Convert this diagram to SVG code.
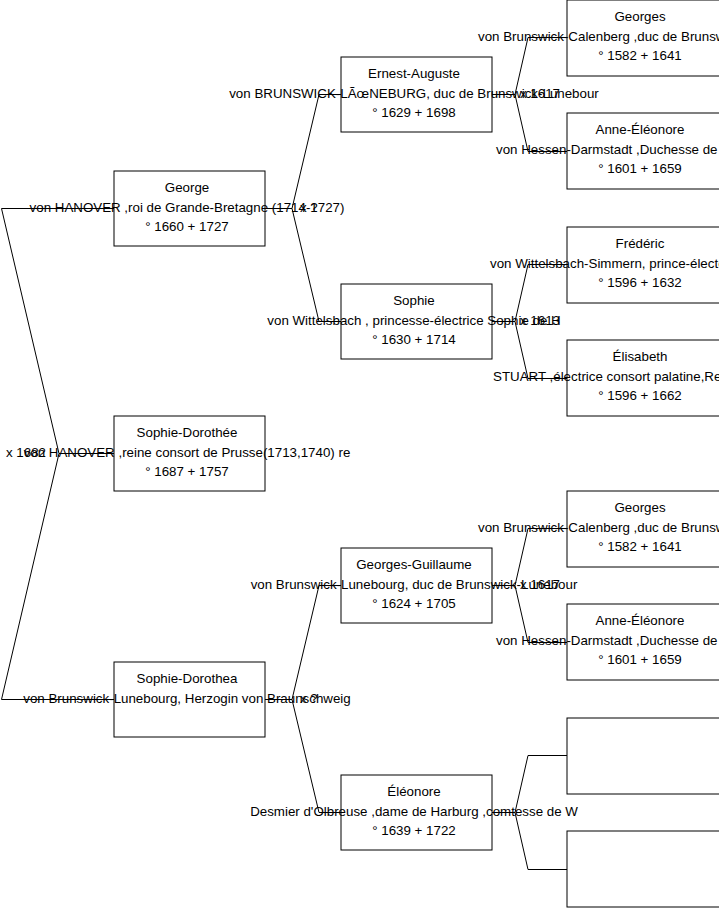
<svg xmlns="http://www.w3.org/2000/svg" width="719" height="908" viewBox="0 0 719 908">
<style>
.bg{fill:#fff}
.box{fill:#fff;stroke:#000;stroke-width:1}
.t{font-family:"Liberation Sans",Arial,sans-serif;font-size:13.33px;fill:#000;text-anchor:middle}
.s{text-anchor:start}
.c{fill:none;stroke:#000;stroke-width:1}
</style>
<rect class="bg" x="0" y="0" width="719" height="908"/>
<g id="n-george">
<rect class="box" x="114" y="171" width="151" height="75"/>
<text class="t" x="187" y="192">George</text>
<text class="t" x="187" y="212">von HANOVER ,roi de Grande-Bretagne (1714-1727)</text>
<text class="t" x="187" y="231">° 1660 + 1727</text>
</g>
<g id="n-sophie-dorothee">
<rect class="box" x="114" y="416" width="151" height="75"/>
<text class="t" x="187" y="437">Sophie-Dorothée</text>
<text class="t" x="187" y="457">von HANOVER ,reine consort de Prusse(1713,1740) re</text>
<text class="t" x="187" y="476">° 1687 + 1757</text>
</g>
<g id="n-sophie-dorothea">
<rect class="box" x="114" y="662" width="151" height="75"/>
<text class="t" x="187" y="683">Sophie-Dorothea</text>
<text class="t" x="187" y="703">von Brunswick-Lunebourg, Herzogin von Braunschweig</text>
</g>
<g id="n-ernest-auguste">
<rect class="box" x="341" y="57" width="151" height="75"/>
<text class="t" x="414" y="78">Ernest-Auguste</text>
<text class="t" x="414" y="98">von BRUNSWICK-LÃœNEBURG, duc de Brunswick-Lunebour</text>
<text class="t" x="414" y="117">° 1629 + 1698</text>
</g>
<g id="n-sophie">
<rect class="box" x="341" y="284" width="151" height="75"/>
<text class="t" x="414" y="305">Sophie</text>
<text class="t" x="414" y="325">von Wittelsbach , princesse-électrice Sophie de H</text>
<text class="t" x="414" y="344">° 1630 + 1714</text>
</g>
<g id="n-georges-guillaume">
<rect class="box" x="341" y="548" width="151" height="75"/>
<text class="t" x="414" y="569">Georges-Guillaume</text>
<text class="t" x="414" y="589">von Brunswick-Lunebourg, duc de Brunswick-Lunebour</text>
<text class="t" x="414" y="608">° 1624 + 1705</text>
</g>
<g id="n-eleonore">
<rect class="box" x="341" y="775" width="151" height="75"/>
<text class="t" x="414" y="796">Éléonore</text>
<text class="t" x="414" y="816">Desmier d'Olbreuse ,dame de Harburg ,comtesse de W</text>
<text class="t" x="414" y="835">° 1639 + 1722</text>
</g>
<g id="n-georges-1">
<rect class="box" x="567" y="0" width="160" height="76"/>
<text class="t" x="640" y="21">Georges</text>
<text class="t s" x="478" y="41">von Brunswick-Calenberg ,duc de Brunsw</text>
<text class="t" x="640" y="60">° 1582 + 1641</text>
</g>
<g id="n-anne-eleonore-1">
<rect class="box" x="567" y="113" width="160" height="76"/>
<text class="t" x="640" y="134">Anne-Éléonore</text>
<text class="t s" x="496" y="154">von Hessen-Darmstadt ,Duchesse de</text>
<text class="t" x="640" y="173">° 1601 + 1659</text>
</g>
<g id="n-frederic">
<rect class="box" x="567" y="227" width="160" height="76"/>
<text class="t" x="640" y="248">Frédéric</text>
<text class="t s" x="490" y="268">von Wittelsbach-Simmern, prince-électe</text>
<text class="t" x="640" y="287">° 1596 + 1632</text>
</g>
<g id="n-elisabeth">
<rect class="box" x="567" y="340" width="160" height="76"/>
<text class="t" x="640" y="361">Élisabeth</text>
<text class="t s" x="493" y="381">STUART ,électrice consort palatine,Re</text>
<text class="t" x="640" y="400">° 1596 + 1662</text>
</g>
<g id="n-georges-2">
<rect class="box" x="567" y="491" width="160" height="76"/>
<text class="t" x="640" y="512">Georges</text>
<text class="t s" x="478" y="532">von Brunswick-Calenberg ,duc de Brunsw</text>
<text class="t" x="640" y="551">° 1582 + 1641</text>
</g>
<g id="n-anne-eleonore-2">
<rect class="box" x="567" y="604" width="160" height="76"/>
<text class="t" x="640" y="625">Anne-Éléonore</text>
<text class="t s" x="496" y="645">von Hessen-Darmstadt ,Duchesse de</text>
<text class="t" x="640" y="664">° 1601 + 1659</text>
</g>
<g id="n-empty-1">
<rect class="box" x="567" y="718" width="160" height="76"/>
</g>
<g id="n-empty-2">
<rect class="box" x="567" y="831" width="160" height="76"/>
</g>
<g id="connectors">
<path class="c" d="M114,453.5 H59 M59,453.5 L1.5,208.5 H114 M59,453.5 L1.5,699.5 H114"/>
<path class="c" d="M265,208.5 H292 L319,94.5 H341 M292,208.5 L319,321.5 H341"/>
<path class="c" d="M265,699.5 H292 L319,585.5 H341 M292,699.5 L319,812.5 H341"/>
<path class="c" d="M492,94.5 H515 L528,37.5 H567 M515,94.5 L528,151.5 H567"/>
<path class="c" d="M492,321.5 H515 L528,264.5 H567 M515,321.5 L528,378.5 H567"/>
<path class="c" d="M492,585.5 H515 L528,528.5 H567 M515,585.5 L528,642.5 H567"/>
<path class="c" d="M492,812.5 H515 L528,755.5 H567 M515,812.5 L528,869.5 H567"/>
<text class="t s" x="6" y="457">x 1682</text>
<text class="t s" x="300" y="212">x ?</text>
<text class="t s" x="300" y="703">x ?</text>
<text class="t s" x="520" y="98">x 1617</text>
<text class="t s" x="520" y="325">x 1613</text>
<text class="t s" x="520" y="589">x 1617</text>
</g>
</svg>
